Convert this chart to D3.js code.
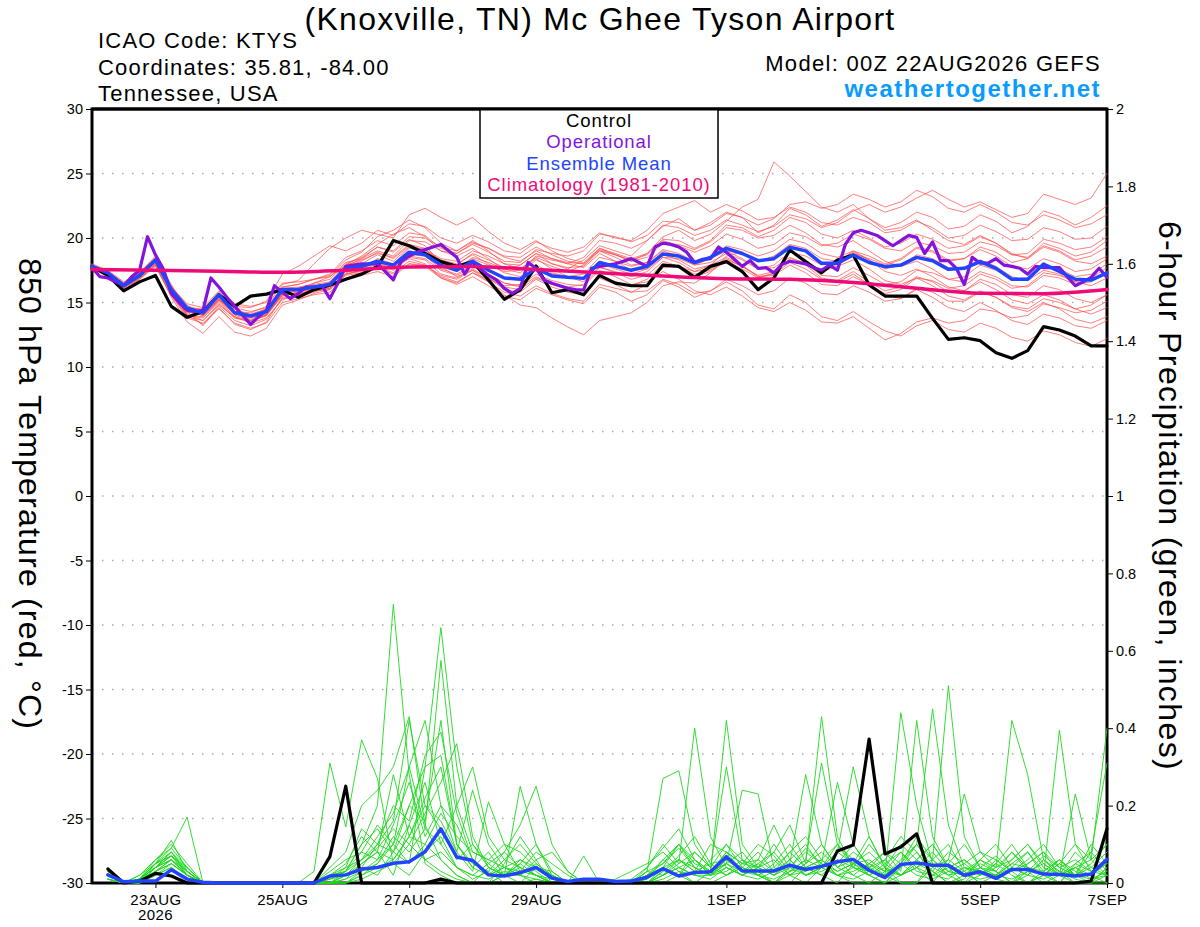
<!DOCTYPE html>
<html>
<head>
<meta charset="utf-8">
<script src="https://cdn.jsdelivr.net/npm/d3@7"></script>
<style>
  body { margin: 0; background: #fff; }
  svg { display: block; font-family: "Liberation Sans", Arial, Helvetica, sans-serif; }
</style>
</head>
<body>
<div id="chart"></div>
<script>
// ---- data (6-hourly from 00Z 22AUG2026, operational is 3-hourly) ----
const runStart = Date.UTC(2026, 7, 22, 0);

const dateTicks = ['2026-08-23', '2026-08-25', '2026-08-27', '2026-08-29', '2026-09-01', '2026-09-03', '2026-09-05', '2026-09-07'];
const dateLabels = ['23AUG', '25AUG', '27AUG', '29AUG', '1SEP', '3SEP', '5SEP', '7SEP'];
const tempTicks = [-30, -25, -20, -15, -10, -5, 0, 5, 10, 15, 20, 25, 30];
const precipTicks = [0, 0.2, 0.4, 0.6, 0.8, 1, 1.2, 1.4, 1.6, 1.8, 2];

const tempControl = [
  17.8,17.1,15.9,16.6,17.1,14.7,13.85,14.3,
  15.6,14.7,15.5,15.65,16.0,15.4,16.0,16.35,
  16.8,17.2,17.8,19.8,19.4,18.8,18.17,17.8,
  18.17,16.75,15.25,15.97,17.83,15.76,16.0,15.6,
  17.1,16.5,16.3,16.3,17.9,17.8,16.95,17.8,
  18.17,17.4,16.0,16.9,19.07,18.17,17.3,18.3,
  18.68,16.36,15.5,15.5,15.5,13.77,12.14,12.27,
  12.04,11.11,10.67,11.27,13.13,12.87,12.4,11.63,
  11.63
];

const tempOper = [
  17.7,17.0,16.9,16.6,16.3,17.0,17.5,20.1,
  18.7,17.6,15.7,15.0,14.4,14.3,14.4,16.9,
  16.2,15.4,14.7,14.0,13.3,13.9,14.4,16.3,
  15.8,15.3,15.7,16.2,16.2,16.3,15.3,16.5,
  17.8,17.9,18.0,18.0,18.0,17.4,16.75,18.2,
  18.6,18.9,19.1,19.3,19.5,19.0,18.5,17.2,
  18.2,17.6,17.1,16.75,16.1,15.7,16.1,18.1,
  17.65,16.75,16.5,16.3,16.1,16.0,15.97,17.65,
  17.8,17.9,18.0,18.2,18.4,18.1,17.8,19.3,
  19.6,19.5,19.3,18.9,18.1,18.35,18.4,19.3,
  18.9,18.35,17.8,18.25,17.65,17.7,17.3,17.95,
  18.2,18.1,18.0,17.7,17.5,17.9,17.5,19.5,
  20.4,20.6,20.4,20.2,19.8,19.4,19.8,20.2,
  20.05,18.8,19.7,18.25,18.25,17.65,16.4,18.5,
  18.05,18.05,18.4,17.9,17.8,17.65,17.2,17.8,
  17.7,17.7,17.7,17.0,16.3,16.6,16.95,17.65,
  16.95
];

const tempMean = [
  17.8,17.3,16.3,17.1,18.3,16.0,14.55,14.2,
  15.6,14.2,13.95,14.3,16.0,16.0,16.2,16.4,
  17.65,17.8,18.2,17.9,18.9,18.7,17.9,17.5,
  18.2,17.5,16.9,16.8,17.65,17.06,16.95,16.87,
  18.1,17.8,17.5,17.8,18.76,18.6,18.1,18.5,
  19.2,18.8,18.24,18.4,19.28,19.0,18.04,18.04,
  18.68,18.1,17.78,17.9,18.5,18.24,17.57,17.65,
  18.17,17.65,16.8,16.8,17.98,17.4,16.8,16.74,
  17.3
];

// daily climatology, 00Z each day
const tempClim = [17.55,17.5,17.42,17.34,17.5,17.75,17.8,17.55,17.3,17.05,16.85,16.8,16.55,16.1,15.72,15.68,16.0];

const tempMembers = [
  [17.9,17.4,16.5,17.2,18.0,16.2,14.8,14.0, 15.2,14.5,13.6,14.0,15.5,15.8,16.5,17.0, 17.9,18.6,19.5,20.3,20.8,20.1,19.0,18.6, 19.2,18.4,17.5,17.9,18.8,18.0,17.6,18.3, 19.4,19.0,18.6,19.8,20.9,21.5,20.6,21.2, 22.0,21.6,20.4,21.0,22.3,21.8,20.9,21.4, 22.2,21.5,20.8,21.2,22.0,21.6,20.7,20.9, 21.8,21.3,20.4,20.9,22.1,21.7,21.0,21.6, 22.5],
  [17.6,17.1,16.0,16.8,17.9,15.6,13.9,13.6, 14.8,13.9,13.4,13.8,15.2,15.6,15.9,16.0, 17.1,17.3,17.7,17.2,18.0,17.8,16.9,16.4, 17.0,16.3,15.5,15.2,16.1,15.6,15.2,14.9, 16.2,15.8,15.1,15.6,16.7,16.2,15.4,15.9, 16.6,15.9,14.8,14.5,15.6,15.0,13.9,13.6, 14.3,13.5,12.8,12.4,13.2,13.6,12.9,12.7, 13.4,13.0,12.3,12.0,12.8,12.5,11.9,11.6, 12.2],
  [18.0,17.5,16.6,17.3,18.6,16.4,14.3,13.2, 14.6,13.3,12.9,13.5,15.4,15.5,15.8,16.2, 17.8,18.4,19.3,18.9,19.9,19.4,18.1,17.6, 18.5,18.1,17.6,17.3,18.3,17.8,17.4,17.9, 19.2,18.7,18.2,18.8,20.1,20.6,19.8,20.3, 21.3,22.4,23.0,25.9,24.8,23.6,22.4,22.0, 22.6,21.5,20.6,20.8,21.4,20.6,19.8,19.5, 20.2,19.6,18.8,18.4,19.3,18.9,18.2,18.0, 18.6],
  [17.7,17.2,16.2,17.0,18.2,15.8,14.0,13.8, 15.0,13.8,13.5,14.0,15.8,15.9,16.0,16.3, 17.4,17.6,18.4,18.0,19.2,19.0,18.3,18.0, 18.7,18.0,17.3,17.0,17.9,17.3,17.0,16.8, 18.0,17.6,17.2,17.6,18.7,18.3,17.6,17.9, 18.5,17.9,17.0,17.2,18.1,17.6,16.8,16.6, 17.2,16.4,15.6,15.3,16.0,15.4,14.6,14.3, 15.0,14.4,13.6,13.3,14.1,13.8,13.2,13.0, 13.6],
  [17.8,17.3,16.4,17.2,18.4,16.1,14.6,14.5, 15.8,14.6,14.3,14.6,16.2,16.4,16.8,17.1, 18.3,18.9,20.1,20.6,21.4,20.8,19.6,19.0, 19.8,19.0,18.0,17.6,18.4,17.6,17.0,16.6, 17.8,17.3,16.8,17.1,18.2,17.8,17.0,17.4, 18.2,17.6,16.9,17.3,18.4,18.1,17.4,17.8, 18.8,18.4,17.9,18.3,19.2,18.9,18.2,18.4, 19.3,18.9,18.1,18.4,19.6,19.2,18.6,18.9, 19.8],
  [17.9,17.3,16.3,17.0,18.1,15.9,14.4,14.1, 15.3,14.0,13.7,14.1,15.7,15.6,15.9,16.1, 17.2,17.5,18.2,17.7,18.7,18.6,17.9,17.6, 18.4,17.9,17.4,17.5,18.6,18.3,18.0,18.5, 19.8,19.6,19.2,19.8,21.0,20.8,20.2,20.6, 21.4,21.0,20.5,20.9,21.8,21.5,20.8,21.2, 22.1,22.6,22.0,22.4,23.1,23.7,23.0,22.4, 22.8,22.2,21.6,21.9,23.4,23.0,22.6,23.1, 25.0],
  [17.6,17.1,16.1,16.9,18.0,15.7,14.2,14.3, 15.6,14.5,14.0,14.4,16.0,16.1,16.3,16.5, 17.5,17.8,18.0,17.5,18.5,18.3,17.2,16.9, 17.6,16.9,16.0,15.8,16.8,16.2,15.8,15.6, 17.0,16.6,16.3,16.8,18.0,17.8,17.2,17.5, 18.3,17.8,17.1,17.4,18.3,17.9,16.9,16.7, 17.4,16.6,15.9,16.2,17.0,16.6,15.8,15.9, 16.8,16.4,15.6,15.4,16.3,16.0,15.3,15.0, 15.6],
  [17.8,17.2,16.3,17.1,18.3,16.0,14.0,13.3, 14.7,13.6,13.2,13.7,15.3,15.5,16.1,16.6, 17.9,18.3,18.8,18.5,19.5,19.2,17.8,17.0, 17.5,16.6,15.6,14.8,14.6,13.8,13.1,12.5, 13.6,13.9,14.2,15.0,16.3,16.6,16.5,17.3, 18.6,18.9,18.2,18.6,19.5,19.2,18.4,18.2, 18.9,18.3,17.6,17.9,18.7,18.4,17.7,17.6, 18.3,17.8,17.0,16.7,17.5,17.2,16.6,16.3, 16.9],
  [17.9,17.4,16.5,17.3,18.5,16.3,14.7,14.4, 15.7,14.7,14.6,15.1,17.2,17.8,18.6,19.4, 19.0,19.6,20.6,20.2,21.1,20.9,20.0,19.6, 20.2,19.7,19.0,18.8,19.7,19.2,18.9,19.3, 20.4,20.0,19.8,20.6,21.9,22.4,22.9,22.0, 22.6,22.1,21.4,21.6,22.4,22.0,21.2,21.0, 21.6,21.2,20.4,20.6,21.3,20.8,20.0,20.2, 21.0,20.5,19.8,19.9,20.8,20.5,19.9,20.0, 20.9],
  [17.7,17.2,16.2,16.9,17.9,15.4,13.5,12.6, 13.9,12.7,12.4,13.0,14.8,15.2,15.7,16.0, 17.3,17.7,18.1,17.9,18.9,18.6,17.6,17.2, 17.9,17.2,16.5,16.3,17.2,16.7,16.4,16.3, 17.5,17.0,16.4,16.6,17.4,16.8,15.9,15.6, 16.2,15.5,14.6,14.3,15.0,14.4,13.5,13.4, 13.9,13.0,12.1,12.6,13.5,13.8,13.4,13.6, 14.5,14.3,13.8,14.0,14.9,14.6,14.2,14.4, 15.1],
  [17.8,17.3,16.4,17.1,18.2,16.0,14.5,14.3, 15.5,14.3,14.1,14.5,16.1,16.2,16.4,16.6, 17.8,18.2,18.9,18.4,19.4,19.1,18.2,17.9, 18.8,18.3,17.7,17.6,18.5,18.0,17.7,17.8, 19.0,18.7,18.3,18.7,19.8,19.4,18.9,19.4, 20.3,19.9,19.2,19.5,20.4,20.1,19.4,19.6, 20.3,19.9,19.2,19.0,19.7,19.4,18.8,18.9, 19.7,19.4,18.7,18.8,19.9,19.6,19.1,19.3, 20.1],
  [17.6,17.0,16.0,16.8,17.8,15.5,13.8,13.4, 14.5,13.4,13.0,13.4,15.0,15.3,15.6,15.8, 16.9,17.1,17.4,17.0,18.0,17.9,17.1,16.8, 17.5,16.9,16.2,16.0,16.9,16.4,16.2,16.4, 17.7,17.4,17.0,17.4,18.5,18.4,17.9,18.4, 19.4,19.1,18.6,19.0,19.9,19.6,18.8,18.5, 19.0,18.3,17.4,17.1,17.6,17.0,16.2,15.9, 16.6,16.0,15.2,14.9,15.6,15.2,14.5,14.1, 14.6],
  [17.9,17.4,16.4,17.2,18.4,16.2,14.9,14.6, 15.9,14.9,14.7,15.0,16.5,16.6,16.8,17.0, 18.1,18.4,19.0,18.6,19.8,19.7,19.0,18.8, 19.6,19.2,18.6,18.5,19.3,18.7,18.2,18.0, 19.0,18.5,17.9,18.1,19.0,18.6,17.9,18.1, 18.8,18.3,17.6,17.9,18.9,18.6,17.9,18.1, 19.0,18.6,18.0,18.4,19.3,19.0,18.3,18.4, 19.1,18.6,17.8,17.6,18.4,18.0,17.4,17.6, 18.4],
  [17.7,17.2,16.2,17.0,18.1,15.8,14.1,13.6, 14.9,13.8,13.6,14.0,15.6,15.8,16.1,16.4, 17.6,18.0,18.7,18.2,19.3,19.1,18.4,18.2, 19.0,18.6,18.0,17.9,18.8,18.4,18.1,18.0, 19.1,18.7,18.2,18.5,19.6,19.5,19.1,19.7, 20.8,20.6,20.0,20.2,21.0,20.4,19.5,19.3, 19.8,19.0,18.2,17.8,18.2,17.6,16.8,16.6, 17.4,17.0,16.3,16.2,17.1,16.9,16.4,16.6, 17.4],
  [17.8,17.3,16.3,17.0,18.1,15.9,14.3,14.0, 15.2,14.1,13.9,14.2,15.7,15.9,16.2,16.4, 17.5,17.7,18.1,17.6,18.4,18.0,16.9,16.5, 17.3,16.8,16.3,16.4,17.5,17.2,17.0,17.2, 18.5,18.2,17.8,18.1,19.1,18.8,18.2,18.4, 19.0,18.4,17.6,17.7,18.5,18.0,17.1,17.0, 17.7,17.1,16.4,16.6,17.5,17.3,16.8,17.0, 17.9,17.5,16.8,16.9,17.9,17.6,17.0,17.2, 18.0],
  [17.9,17.4,16.5,17.3,18.4,16.1,14.5,14.2, 15.4,14.3,14.2,14.7,16.4,16.7,18.0,19.2, 20.0,20.6,20.3,20.0,21.8,22.3,21.6,21.0, 21.6,20.5,19.6,19.1,19.8,19.0,18.4,18.1, 19.2,18.8,18.4,18.8,19.9,19.8,19.2,19.8, 21.0,20.8,20.1,20.6,21.6,21.2,20.3,20.0, 20.6,20.0,19.3,19.6,20.3,19.9,19.2,19.4, 20.1,19.6,18.7,18.5,19.4,19.0,18.3,18.6, 19.3],
  [17.6,17.1,16.1,16.9,17.9,15.6,14.0,13.9, 15.1,13.9,13.6,14.0,15.6,15.7,16.0,16.2, 17.2,17.4,17.8,17.3,18.2,17.9,17.0,16.6, 17.3,16.6,15.8,15.5,16.3,15.7,15.3,15.1, 16.4,16.1,15.8,16.4,17.7,17.8,17.4,17.9, 19.0,18.8,18.2,18.5,19.4,19.0,18.1,17.8, 18.3,17.6,16.7,16.4,16.9,16.3,15.5,15.2, 15.9,15.4,14.6,14.3,15.0,14.5,13.7,13.4, 13.9],
  [17.8,17.3,16.4,17.2,18.3,16.0,14.4,14.0, 15.3,14.2,13.9,14.3,15.9,16.1,16.5,16.8, 18.0,18.5,19.3,19.0,20.1,20.0,19.3,19.0, 19.7,19.2,18.5,18.2,19.0,18.4,18.0,17.7, 18.8,18.2,17.5,17.6,18.5,18.1,17.4,17.6, 18.4,17.8,17.0,17.1,17.9,17.3,16.4,16.3, 17.0,16.4,15.7,16.0,16.9,16.7,16.1,16.3, 17.2,16.8,16.1,16.3,17.3,17.1,16.6,16.9, 17.7],
  [17.9,17.4,16.4,17.1,18.2,16.0,14.4,14.1, 15.3,14.2,14.0,14.5,16.2,16.4,16.8,17.2, 18.5,19.0,19.8,19.4,20.4,20.2,19.2,18.8, 19.5,18.9,18.2,18.1,19.1,18.8,18.6,19.0, 20.3,20.1,19.7,20.2,21.3,21.2,20.6,21.0, 21.9,21.6,21.0,21.5,22.6,22.8,22.3,22.6, 23.4,23.0,22.4,22.8,23.7,23.2,22.3,22.0, 22.6,22.0,21.2,21.0,21.8,21.4,20.8,21.1, 21.8],
  [17.7,17.2,16.3,17.0,18.2,15.9,14.3,14.0, 15.2,14.1,13.8,14.1,15.6,15.7,15.9,16.1, 17.2,17.5,18.0,17.6,18.6,18.4,17.5,17.1, 17.8,17.2,16.5,16.2,17.0,16.4,16.0,15.8, 16.9,16.4,15.8,15.9,16.8,16.4,15.7,15.9, 16.8,16.3,15.6,15.9,16.9,16.5,15.7,15.6, 16.3,15.8,15.1,15.3,16.1,15.8,15.1,15.1, 15.8,15.4,14.7,14.5,15.3,15.0,14.5,14.8, 15.6]
];

// 6-hour precipitation, valid 06Z 22AUG onward (64 periods)
const precipControl = [
  .036,0,.005,.025,.018,0,0,0, 0,0,0,0,0,0,.068,.25,
  0,0,0,0,0,.01,0,0, 0,0,0,0,0,0,0,0,
  0,0,0,0,0,0,0,0, 0,0,0,0,0,0,.083,.098,
  .372,.075,.093,.127,0,0,0,0, 0,0,0,0,0,0,.005,.14
];

const precipMean = [
  .021,.003,.005,.005,.034,.01,.002,0, 0,0,0,0,0,0,.018,.021,
  .036,.04,.051,.055,.081,.14,.067,.058, .021,.018,.027,.04,.013,.004,.01,.01,
  .004,.005,.015,.037,.018,.027,.029,.068, .031,.031,.031,.046,.035,.043,.055,.061,
  .033,.014,.048,.052,.046,.046,.02,.029, .012,.035,.035,.023,.022,.018,.023,.061
];

const precipMembers = [
  [.03,0,.01,.06,.09,.17,0,0, 0,0,0,0,0,0,.02,.05, .12,.08,.02,.15,.06,.03,.01,0, 0,.02,.05,.02,0,0,0,0, 0,0,0,.04,.1,.06,.02,.05, .08,.03,0,0,.04,.02,0,.05, .12,.04,0,0,.06,.1,.03,0, 0,0,.05,.08,.02,0,0,.04],
  [.02,0,.02,.05,.11,.03,0,0, 0,0,0,0,0,.03,.31,.145, .37,.27,.05,.02,.08,.12,.04,.01, .03,0,0,.01,0,0,0,0, 0,0,.02,.06,.03,0,0,.02, .05,.1,.07,.02,0,.04,.06,.02, 0,0,.02,.05,.03,0,.01,.06, .03,0,0,.02,.06,.02,0,0],
  [.04,0,0,.04,.08,.02,0,0, 0,0,0,0,0,0,0,.03, .1,.2,.72,.28,.05,.02,0,0, 0,.05,.12,.06,0,0,0,0, 0,0,0,0,.02,.08,.04,.1, .06,.02,0,.04,.09,.05,.02,0, 0,.03,.08,.04,0,.05,.1,.04, .01,0,.03,.07,.04,.02,.05,.1],
  [.01,0,.01,.05,.07,.04,0,0, 0,0,0,0,0,0,.04,.08, .2,.24,.3,.43,.15,.06,.02,0, .04,.02,.02,.06,.08,.03,0,0, 0,0,.02,.05,.09,.04,.02,.08, .05,.04,.02,.05,.28,.1,.04,.08, .05,.02,0,0,.04,.06,.03,0, .02,.05,.08,.03,0,.04,.02,0],
  [.02,0,0,.03,.06,.02,0,0, 0,0,0,0,0,0,0,.02, .06,.12,.18,.3,.42,.2,.08,.03, .21,.1,.03,.02,0,0,0,0, 0,0,.04,.09,.14,.06,.02,.03, .06,.04,.08,.15,.05,.43,.12,.04, .02,0,.05,.12,.06,.02,0,.04, .07,.03,0,.02,.05,.1,.06,.02],
  [.03,0,.01,.04,.08,.03,0,0, 0,0,0,0,0,0,0,0, .02,.05,.1,.2,.3,.66,.3,.1, .05,.08,.15,.25,.1,.03,0,0, 0,0,0,.03,.06,.04,.02,.06, .04,.02,0,.03,.06,.31,.1,.05, .03,.06,.12,.08,.03,0,.02,.05, .03,0,.02,.06,.03,0,0,.02],
  [.01,0,0,.03,.05,.02,0,0, 0,0,0,0,0,0,.01,.04, .14,.1,.2,.16,.33,.39,.18,.06, .02,.04,.06,.03,0,0,0,0, 0,0,0,.02,.04,.02,.02,.05, .24,.23,.04,.02,.03,.05,.26,.1, .04,.02,.44,.2,.05,.02,.04,.03, .01,.04,.08,.02,0,.05,.08,.31],
  [.02,0,.02,.06,.1,.05,0,0, 0,0,0,0,0,0,.03,.06, .08,.15,.1,.05,.3,.33,.1,.04, .08,.02,.25,.1,.02,0,.07,0, 0,0,.01,.04,.02,0,.03,.42, .1,.04,.02,.06,.02,.04,.08,.3, .12,.04,.02,.06,.1,.04,0,.02, .05,.02,0,.03,.06,.02,.1,.05],
  [.03,0,0,.05,.07,.03,0,0, 0,0,0,0,0,0,0,.01, .05,.08,.28,.12,.2,.16,.08,.24, .1,.04,.02,.05,.02,0,0,0, 0,0,.03,.27,.29,.1,.04,.3, .06,.02,0,.02,.05,.08,.04,.02, .05,.08,.03,.42,.12,.04,.02,.06, .1,.04,.02,.06,.03,.01,0,.04],
  [.02,0,.01,.04,.06,.02,0,0, 0,0,0,0,0,0,0,0, .03,.06,.15,.26,.12,.2,.15,.06, .02,.06,.1,.05,.02,0,0,0, 0,.01,.04,.1,.05,.4,.12,.04, .02,.04,.06,.02,.05,.1,.04,.06, .02,0,.04,.1,.45,.15,.04,.02, .04,.08,.03,0,.02,.05,.03,.06],
  [.01,0,0,.02,.04,.01,0,0, 0,0,0,0,0,0,0,.02, .04,.1,.08,.15,.26,.1,.04,.02, .05,.02,0,.04,.03,0,0,0, .01,.03,.05,.08,.04,.02,.06,.1, .04,.02,.05,.1,.04,.02,.06,.04, .1,.05,.02,.04,.06,.51,.12,.04, .02,.06,.1,.04,.02,.08,.04,.02],
  [.02,0,.01,.05,.08,.04,0,0, 0,0,0,0,0,0,.02,.03, .06,.09,.14,.1,.18,.26,.36,.12, .04,.02,.05,.1,.03,0,0,0, 0,0,.02,.04,.06,.03,.1,.08, .03,.06,.15,.06,.02,.04,.1,.04, .02,.05,.08,.03,.02,.06,.23,.08, .04,.42,.28,.06,.02,.04,.06,.1],
  [.03,0,0,.04,.07,.02,0,0, 0,0,0,0,0,0,0,0, .02,.04,.06,.12,.22,.3,.1,.04, .02,.04,.03,.08,.05,.02,0,0, 0,0,.03,.05,.1,.04,.02,.04, .02,.05,.08,.03,.04,.06,.03,.05, .08,.04,.02,.06,.1,.04,.06,.02, .05,.1,.04,.02,.395,.1,.03,.05],
  [.02,0,.01,.03,.06,.03,0,0, 0,0,0,0,0,0,.01,.03, .1,.14,.08,.2,.16,.42,.1,.05, .03,.08,.04,.02,0,0,0,0, 0,0,0,.02,.06,.03,.05,.06, .03,.02,.04,.08,.12,.06,.02,.04, .03,.02,.06,.1,.04,.02,.03,.06, .04,.06,.1,.05,.02,.23,.06,.4],
  [.01,0,0,.02,.05,.02,0,0, 0,0,0,0,0,0,0,.01, .03,.05,.12,.08,.14,.1,.2,.3, .12,.06,.04,.02,.01,0,0,0, 0,0,0,.03,.07,.12,.05,.02, .04,.08,.03,.06,.1,.04,.08,.05, .02,.04,.1,.06,.03,.08,.05,.02, .06,.03,.05,.08,.04,.02,.08,.03],
  [.02,0,.01,.04,.07,.03,0,0, 0,0,0,0,0,0,.02,.04, .06,.1,.16,.42,.2,.14,.06,.1, .04,.02,.06,.04,.02,0,0,0, 0,0,.02,.04,.02,.06,.03,.05, .02,.04,.1,.04,.02,.03,.05,.1, .04,.06,.02,.04,.08,.03,.02,.04, .03,.08,.04,.02,.05,.02,.04,.08],
  [.02,0,0,.03,.05,.02,0,0, 0,0,0,0,0,0,0,0, .01,.03,.05,.1,.06,.08,.04,.02, .01,.03,.02,0,0,0,0,0, 0,0,0,.01,.03,.02,.01,.04, .02,.01,.03,.05,.02,.04,.02,.01, .03,.02,.05,.02,.01,.03,.02,.01, .02,.04,.02,.01,.03,.02,.01,.02],
  [.03,0,.01,.05,.09,.04,0,0, 0,0,0,0,0,0,.01,.02, .05,.08,.06,.12,.1,.18,.12,.08, .06,.1,.08,.04,.02,0,0,0, 0,0,.01,.06,.1,.05,.03,.08, .05,.06,.03,.08,.04,.06,.1,.06, .04,.08,.05,.1,.06,.03,.05,.08, .06,.03,.06,.1,.04,.06,.03,.02],
  [.01,0,0,.02,.04,.01,0,0, 0,0,0,0,0,0,0,.02, .04,.02,.08,.05,.1,.06,.02,0, 0,.02,.04,.02,0,0,0,0, 0,0,.03,.02,.05,.08,.04,.02, .04,.02,.01,.03,.06,.04,.02,.03, .05,.03,.02,.04,.02,.01,.04,.03, .02,.01,.03,.05,.02,.04,.01,.03],
  [.02,0,.01,.04,.06,.02,0,0, 0,0,0,0,0,0,.02,.03, .08,.06,.1,.3,.14,.575,.2,.08, .06,.04,.02,.01,0,0,0,0, 0,0,0,.02,.04,.06,.03,.05, .03,.05,.02,.04,.08,.05,.03,.05, .06,.03,.04,.08,.02,.04,.06,.03, .02,.05,.04,.03,.06,.03,.02,.05]
];

// ---- layout ----
const W = 1200, H = 927;
const plot = { left: 92, right: 1107, top: 109, bottom: 883 };
const colors = {
  member: '#ff4d4d', precip: '#1fd81f', control: '#000000',
  oper: '#8414dc', mean: '#2244ff', clim: '#ee0a78', site: '#0a9bff'
};

const svg = d3.select('#chart').append('svg')
  .attr('width', W).attr('height', H)
  .attr('viewBox', [0, 0, W, H]);

const x = d3.scaleUtc()
  .domain([new Date(runStart), new Date(runStart + 384 * 3600e3)])
  .range([plot.left, plot.right]);
const yT = d3.scaleLinear().domain([-30, 30]).range([plot.bottom, plot.top]);
const yP = d3.scaleLinear().domain([0, 2]).range([plot.bottom, plot.top]);

const at = h => new Date(runStart + h * 3600e3);

// grid
svg.append('g')
  .selectAll('line')
  .data(tempTicks.filter(d => d > -30 && d < 30))
  .join('line')
  .attr('x1', plot.left).attr('x2', plot.right)
  .attr('y1', d => yT(d)).attr('y2', d => yT(d))
  .attr('stroke', '#aaaaaa').attr('stroke-width', 1.3)
  .attr('stroke-dasharray', '1.5,8.5');

// axes
const axisLeft = svg.append('g')
  .attr('transform', `translate(${plot.left},0)`)
  .call(d3.axisLeft(yT).tickValues(tempTicks).tickFormat(d => String(d)).tickSize(6).tickPadding(3));
const axisRight = svg.append('g')
  .attr('transform', `translate(${plot.right},0)`)
  .call(d3.axisRight(yP).tickValues(precipTicks).tickFormat(d3.format('~g')).tickSize(6).tickPadding(3));
const axisBottom = svg.append('g')
  .attr('transform', `translate(0,${plot.bottom})`)
  .call(d3.axisBottom(x).tickValues(dateTicks.map(d => new Date(d + 'T00:00:00Z')))
    .tickFormat((d, i) => dateLabels[i]).tickSize(5).tickPadding(6));

[axisLeft, axisRight, axisBottom].forEach(g => {
  g.select('.domain').remove();
  g.selectAll('text').attr('font-size', 14.5).attr('fill', '#000')
    .attr('font-family', '"Liberation Sans", Arial, Helvetica, sans-serif');
  g.selectAll('line').attr('stroke', '#000');
});
axisBottom.selectAll('text').attr('font-size', 15).attr('letter-spacing', 0.4);

svg.append('text')
  .attr('x', x(new Date(dateTicks[0] + 'T00:00:00Z')))
  .attr('y', 920)
  .attr('text-anchor', 'middle')
  .attr('font-size', 15).attr('letter-spacing', 0.4)
  .text('2026');

// frame
svg.append('rect')
  .attr('x', plot.left).attr('y', plot.top)
  .attr('width', plot.right - plot.left).attr('height', plot.bottom - plot.top)
  .attr('fill', 'none').attr('stroke', '#000').attr('stroke-width', 3);

// lines
const tempLine = step => d3.line()
  .x((d, i) => x(at(i * step)))
  .y(d => yT(d));
const precipLine = d3.line()
  .x((d, i) => x(at((i + 1) * 6)))
  .y(d => yP(d));

const lines = svg.append('g').attr('fill', 'none')
  .attr('stroke-linejoin', 'round').attr('stroke-linecap', 'round');

lines.selectAll('path.member')
  .data(tempMembers)
  .join('path')
  .attr('class', 'member')
  .attr('d', tempLine(6))
  .attr('stroke', colors.member).attr('stroke-opacity', 0.8).attr('stroke-width', 0.9);

lines.selectAll('path.pmember')
  .data(precipMembers)
  .join('path')
  .attr('class', 'pmember')
  .attr('d', precipLine)
  .attr('stroke', colors.precip).attr('stroke-width', 0.9);

lines.append('path').attr('d', precipLine(precipControl))
  .attr('stroke', colors.control).attr('stroke-width', 3.2);
lines.append('path').attr('d', precipLine(precipMean))
  .attr('stroke', colors.mean).attr('stroke-width', 3.5);

lines.append('path').attr('d', tempLine(6)(tempControl))
  .attr('stroke', colors.control).attr('stroke-width', 3.2);
lines.append('path').attr('d', tempLine(3)(tempOper))
  .attr('stroke', colors.oper).attr('stroke-width', 3.2);
lines.append('path').attr('d', tempLine(6)(tempMean))
  .attr('stroke', colors.mean).attr('stroke-width', 3.5);
lines.append('path')
  .attr('d', d3.line().curve(d3.curveMonotoneX)
    .x((d, i) => x(at(i * 24))).y(d => yT(d))(tempClim))
  .attr('stroke', colors.clim).attr('stroke-width', 3.5);

// legend
const legendItems = [
  { label: 'Control', color: colors.control },
  { label: 'Operational', color: colors.oper },
  { label: 'Ensemble Mean', color: colors.mean },
  { label: 'Climatology (1981-2010)', color: colors.clim }
];
const legend = svg.append('g');
legend.append('rect')
  .attr('x', 480).attr('y', plot.top).attr('width', 238).attr('height', 89)
  .attr('fill', '#fff').attr('stroke', '#000').attr('stroke-width', 1.5);
legend.selectAll('text')
  .data(legendItems)
  .join('text')
  .attr('x', 599).attr('y', (d, i) => 127 + i * 21.3)
  .attr('text-anchor', 'middle').attr('font-size', 18.5).attr('letter-spacing', 0.9)
  .attr('fill', d => d.color)
  .text(d => d.label);
svg.append('line')
  .attr('x1', plot.left).attr('x2', plot.right)
  .attr('y1', plot.top).attr('y2', plot.top)
  .attr('stroke', '#000').attr('stroke-width', 3);

// titles
svg.append('text').attr('x', 600).attr('y', 30).attr('text-anchor', 'middle')
  .attr('font-size', 32).attr('letter-spacing', 1.3)
  .text('(Knoxville, TN) Mc Ghee Tyson Airport');

const info = ['ICAO Code: KTYS', 'Coordinates: 35.81, -84.00', 'Tennessee, USA'];
svg.append('g').selectAll('text')
  .data(info)
  .join('text')
  .attr('x', 98).attr('y', (d, i) => 48 + i * 26.5)
  .attr('font-size', 22).attr('letter-spacing', 1.2)
  .text(d => d);

svg.append('text').attr('x', 1101).attr('y', 71).attr('text-anchor', 'end')
  .attr('font-size', 22).attr('letter-spacing', 1.3)
  .text('Model: 00Z 22AUG2026 GEFS');
svg.append('text').attr('x', 1101).attr('y', 97).attr('text-anchor', 'end')
  .attr('font-size', 24).attr('font-weight', 'bold').attr('letter-spacing', 1.5)
  .attr('fill', colors.site)
  .text('weathertogether.net');

// axis titles
svg.append('text')
  .attr('transform', 'translate(30,494) rotate(90)')
  .attr('text-anchor', 'middle').attr('dominant-baseline', 'central')
  .attr('font-size', 32).attr('letter-spacing', 1.2)
  .text('850 hPa Temperature (red, °C)');
svg.append('text')
  .attr('transform', 'translate(1170,496) rotate(90)')
  .attr('text-anchor', 'middle').attr('dominant-baseline', 'central')
  .attr('font-size', 32).attr('letter-spacing', 1.4)
  .text('6-hour Precipitation (green, inches)');
</script>
</body>
</html>
